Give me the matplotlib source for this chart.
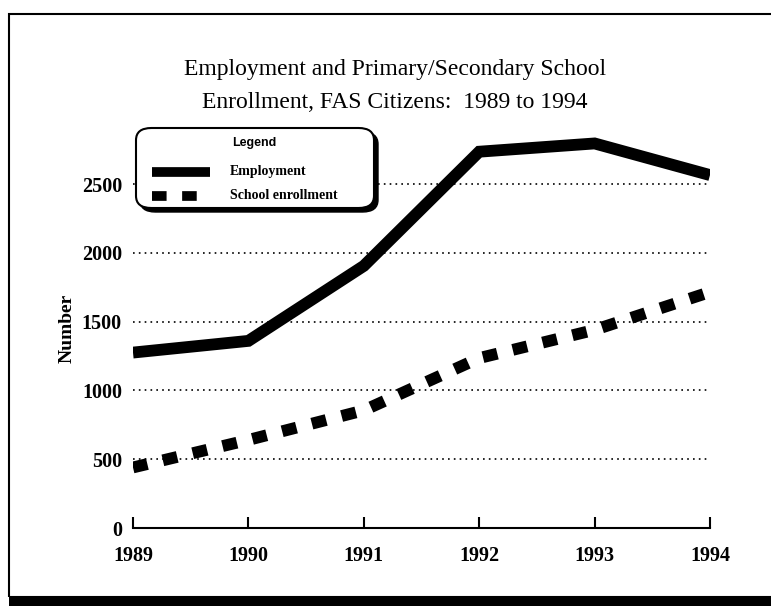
import matplotlib.pyplot as plt
from matplotlib.patches import Rectangle, FancyBboxPatch

years = [1989, 1990, 1991, 1992, 1993, 1994]
employment = [1275, 1360, 1905, 2735, 2795, 2565]
school = [440, 640, 855, 1235, 1440, 1715]
yticks = [0, 500, 1000, 1500, 2000, 2500]

plt.rcParams['font.family'] = ['Liberation Serif', 'DejaVu Serif']
plt.rcParams['font.weight'] = 'bold'

fig = plt.figure(figsize=(7.71, 6.06), dpi=100)
W, H = 771, 606

# рамка скана
fig.patches.append(Rectangle((9 / W, 1 - 597 / H), 770 / W, 583 / H,
                             transform=fig.transFigure, fill=False,
                             lw=1.5, ec='black'))
fig.patches.append(Rectangle((9 / W, 0), 1, 9 / H,
                             transform=fig.transFigure, fc='black', ec='none'))

ax = fig.add_axes([133 / W, 1 - 528 / H, (710 - 133) / W, (528 - 129) / H])
ax.set_xlim(1989, 1994)
ax.set_ylim(0, 2900)

for v in yticks[1:]:
    ax.axhline(v, color='black', lw=1.2, ls=(0, (1, 2.5)), zorder=1)

ax.plot(years, employment, color='black', lw=8.5, solid_capstyle='butt',
        solid_joinstyle='miter', zorder=3)
ax.plot(years, school, color='black', lw=8.5, ls=(0, (1.25, 1.35)),
        dash_capstyle='butt', zorder=3)

for s in ['top', 'right', 'left']:
    ax.spines[s].set_visible(False)
ax.spines['bottom'].set_linewidth(1.5)
ax.set_xticks(years)
ax.set_xticklabels([str(y) for y in years], fontsize=14.5, fontweight='bold')
ax.tick_params(axis='x', direction='in', length=8, width=1.5, pad=13)
ax.set_yticks(yticks)
ax.set_yticklabels([str(v) for v in yticks], fontsize=14.5, fontweight='bold')
ax.tick_params(axis='y', length=0, pad=8)
ax.set_ylabel('Number', fontsize=14, fontweight='bold', labelpad=4)

fig.text(395 / W, 1 - 70 / H, 'Employment and Primary/Secondary School',
         ha='center', va='center', fontsize=17, fontweight='normal')
fig.text(395 / W, 1 - 103 / H, 'Enrollment, FAS Citizens:  1989 to 1994',
         ha='center', va='center', fontsize=17, fontweight='normal')

# легенда с тенью
fig.patches.append(FancyBboxPatch((140 / W, 1 - 212 / H), 238 / W, 80 / H,
                                  boxstyle='round,pad=0,rounding_size=0.02',
                                  transform=fig.transFigure, fc='black', ec='black', lw=1))
fig.patches.append(FancyBboxPatch((136 / W, 1 - 208 / H), 238 / W, 80 / H,
                                  boxstyle='round,pad=0,rounding_size=0.02',
                                  transform=fig.transFigure, fc='white', ec='black', lw=1.5,
                                  zorder=2))
fig.text(254 / W, 1 - 143 / H, 'Legend', ha='center', va='center', fontsize=9,
         family=['Liberation Sans', 'DejaVu Sans'], fontweight='bold', zorder=3)
fig.lines.append(plt.Line2D([152 / W, 210 / W], [1 - 172 / H, 1 - 172 / H],
                            transform=fig.transFigure, color='black', lw=7,
                            solid_capstyle='butt', zorder=3))
fig.lines.append(plt.Line2D([152 / W, 210 / W], [1 - 196 / H, 1 - 196 / H],
                            transform=fig.transFigure, color='black', lw=7,
                            ls=(0, (1.5, 1.6)), dash_capstyle='butt', zorder=3))
fig.text(230 / W, 1 - 172 / H, 'Employment', ha='left', va='center', fontsize=10, zorder=3)
fig.text(230 / W, 1 - 196 / H, 'School enrollment', ha='left', va='center', fontsize=10, zorder=3)

fig.savefig('out.png', dpi=100)
